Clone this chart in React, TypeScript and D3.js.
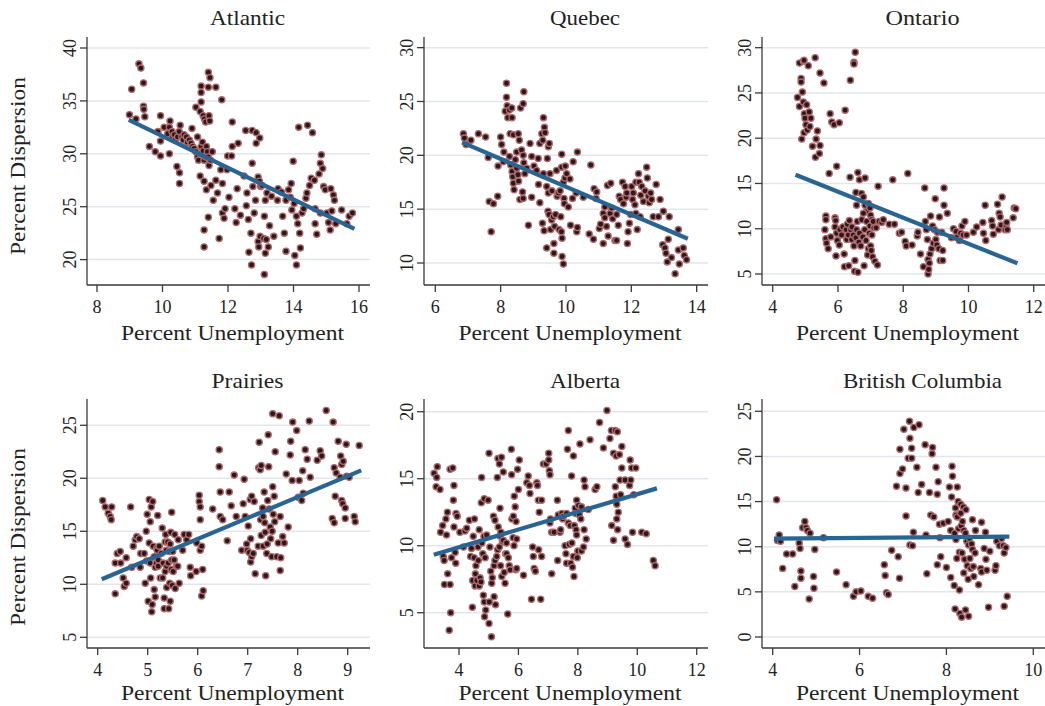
import React from "react";
import * as d3 from "d3";

type Pt = [number, number];

// Percent unemployment (x) vs percent dispersion (y), by region
const atlantic: Pt[] = [
  [8.99, 33.7], [9.06, 36.1], [9.19, 33.3], [9.28, 38.5], [9.34, 38.1], [9.42, 36.7], [9.42, 34.5], [9.43, 34.2],
  [9.46, 33.5], [9.6, 30.7], [9.78, 30.2], [9.86, 32.1], [9.94, 33.6], [9.94, 31.2], [9.94, 29.8], [10.05, 32.5],
  [10.21, 30.0], [10.23, 33.1], [10.44, 28.8], [10.52, 28.2], [10.52, 27.2], [10.16, 31.9], [10.21, 32.5], [10.29, 32.1],
  [10.31, 31.6], [10.36, 31.8], [10.39, 31.3], [10.46, 31.6], [10.51, 32.1], [10.54, 32.7], [10.59, 31.6], [10.63, 31.3],
  [10.66, 31.8], [10.73, 31.6], [10.76, 31.1], [10.82, 31.3], [10.87, 31.0], [10.92, 30.7], [10.97, 30.5], [11.02, 30.2],
  [11.07, 29.7], [11.1, 29.4], [11.15, 30.0], [11.18, 30.7], [11.22, 31.1], [11.24, 30.3], [11.27, 29.4], [11.32, 29.7],
  [11.34, 30.7], [11.37, 30.2], [11.4, 29.7], [11.42, 28.9], [11.47, 29.4], [11.52, 30.2], [10.9, 32.4], [11.02, 34.4],
  [11.07, 31.6], [11.15, 27.9], [11.18, 36.4], [11.18, 35.8], [11.18, 34.9], [11.15, 34.0], [11.24, 33.6], [11.28, 33.3],
  [11.32, 33.0], [11.42, 33.6], [11.44, 33.1], [11.27, 27.4], [11.27, 22.8], [11.27, 21.2], [11.34, 26.6], [11.4, 37.7],
  [11.45, 37.2], [11.4, 36.3], [11.4, 24.0], [11.48, 27.0], [11.55, 25.6], [11.63, 36.3], [11.63, 27.5], [11.68, 26.3],
  [11.73, 22.0], [11.81, 35.1], [11.78, 28.5], [11.83, 27.2], [11.83, 24.4], [11.88, 23.9], [11.91, 24.8], [11.97, 28.5],
  [11.99, 29.8], [12.03, 25.9], [12.11, 29.8], [12.13, 33.0], [12.13, 30.7], [12.21, 24.8], [12.25, 23.5], [12.28, 26.7],
  [12.31, 31.0], [12.38, 24.2], [12.49, 27.9], [12.54, 32.2], [12.56, 25.1], [12.58, 26.3], [12.62, 23.8], [12.64, 20.7],
  [12.7, 22.5], [12.72, 19.5], [12.74, 32.2], [12.74, 29.1], [12.76, 26.9], [12.8, 24.4], [12.84, 25.6], [12.86, 32.0],
  [12.86, 31.0], [12.92, 27.8], [12.96, 27.4], [13.0, 26.9], [12.92, 21.7], [12.94, 21.2], [12.97, 31.5], [12.98, 22.2],
  [13.04, 27.0], [13.09, 22.0], [13.11, 24.1], [13.14, 20.6], [13.11, 18.6], [13.17, 21.9], [13.19, 26.3], [13.14, 25.6],
  [13.23, 21.2], [13.27, 23.2], [13.33, 26.0], [13.4, 22.2], [13.51, 25.6], [13.53, 26.7], [13.63, 26.4], [13.67, 24.1],
  [13.72, 22.5], [13.77, 20.8], [13.77, 25.6], [13.85, 26.6], [13.9, 25.9], [13.93, 27.2], [13.95, 24.7], [13.99, 29.3],
  [14.02, 25.3], [14.04, 20.4], [14.09, 19.5], [14.09, 24.1], [14.13, 23.4], [14.16, 32.5], [14.19, 22.5], [14.21, 21.1],
  [14.26, 24.4], [14.31, 24.8], [14.38, 25.8], [14.41, 26.3], [14.43, 32.7], [14.49, 27.0], [14.54, 27.7], [14.58, 32.0],
  [14.64, 27.5], [14.66, 24.8], [14.66, 23.4], [14.71, 22.4], [14.78, 28.1], [14.82, 29.1], [14.82, 24.4], [14.85, 29.9],
  [14.89, 28.6], [14.92, 26.9], [14.97, 26.6], [15.02, 24.4], [15.07, 23.5], [15.12, 22.8], [15.14, 26.7], [15.17, 24.6],
  [15.22, 26.1], [15.25, 25.6], [15.29, 23.4], [15.47, 24.7], [15.63, 23.4], [15.7, 24.1], [15.8, 24.4],
];

const quebec: Pt[] = [
  [6.86, 22.0], [6.89, 21.6], [6.94, 21.0], [7.09, 21.4], [7.32, 22.0], [7.54, 21.7], [7.62, 19.8], [7.65, 15.7],
  [7.78, 15.5], [7.71, 12.9], [7.91, 16.2], [7.92, 19.0], [8.0, 21.7], [8.03, 21.0], [8.08, 19.4], [8.1, 20.3],
  [8.18, 26.7], [8.18, 25.4], [8.2, 24.6], [8.14, 24.1], [8.27, 24.2], [8.22, 23.5], [8.35, 23.5], [8.34, 24.4],
  [8.29, 22.0], [8.39, 21.9], [8.27, 19.9], [8.31, 19.1], [8.35, 18.5], [8.37, 18.0], [8.39, 17.4], [8.41, 16.8],
  [8.45, 19.6], [8.49, 20.3], [8.49, 18.8], [8.53, 18.2], [8.55, 17.6], [8.57, 21.4], [8.54, 22.0], [8.59, 15.9],
  [8.61, 24.4], [8.69, 24.8], [8.71, 25.9], [8.64, 20.5], [8.69, 20.0], [8.71, 19.3], [8.74, 18.3], [8.67, 16.6],
  [8.69, 16.0], [8.8, 18.8], [8.85, 13.5], [8.9, 21.1], [8.95, 19.9], [8.95, 16.1], [9.02, 19.0], [9.1, 18.6],
  [9.15, 19.7], [9.16, 17.3], [9.2, 15.6], [9.2, 21.1], [9.26, 22.0], [9.29, 21.4], [9.31, 23.5], [9.34, 22.6],
  [9.36, 22.1], [9.31, 18.3], [9.28, 13.7], [9.33, 13.0], [9.41, 11.4], [9.46, 20.8], [9.49, 21.1], [9.43, 19.7],
  [9.41, 17.1], [9.46, 16.5], [9.45, 14.8], [9.48, 14.5], [9.51, 18.3], [9.53, 13.1], [9.56, 14.0], [9.57, 16.7],
  [9.61, 14.3], [9.63, 11.8], [9.63, 10.9], [9.65, 13.4], [9.68, 14.5], [9.71, 18.6], [9.73, 16.2], [9.77, 16.5],
  [9.79, 13.1], [9.82, 16.7], [9.84, 14.3], [9.86, 12.9], [9.87, 20.1], [9.87, 18.9], [9.88, 12.3], [9.88, 10.6],
  [9.92, 9.9], [9.92, 17.5], [9.94, 16.0], [9.95, 15.5], [9.98, 19.0], [9.97, 17.9], [10.02, 18.3], [10.07, 15.2],
  [10.12, 17.8], [10.14, 13.5], [10.2, 16.0], [10.22, 19.4], [10.31, 16.5], [10.33, 12.9], [10.35, 13.3], [10.35, 20.3],
  [10.53, 16.1], [10.71, 12.7], [10.76, 19.1], [10.84, 12.2], [10.86, 16.9], [10.92, 16.0], [10.94, 16.6], [11.02, 13.2],
  [11.06, 13.6], [11.14, 11.8], [11.14, 14.6], [11.19, 15.2], [11.19, 14.2], [11.24, 13.4], [11.27, 17.2], [11.29, 12.5],
  [11.35, 14.6], [11.37, 17.4], [11.4, 15.1], [11.43, 14.1], [11.5, 12.1], [11.55, 12.1], [11.55, 14.5], [11.6, 13.5],
  [11.63, 16.2], [11.67, 15.9], [11.73, 17.5], [11.76, 15.5], [11.81, 17.1], [11.84, 16.1], [11.86, 16.5], [11.88, 11.8],
  [11.9, 12.9], [11.94, 13.7], [11.98, 14.5], [12.01, 17.1], [12.04, 15.9], [12.06, 16.5], [12.11, 15.4], [12.14, 17.5],
  [12.14, 14.6], [12.18, 13.1], [12.22, 18.3], [12.24, 17.5], [12.27, 14.3], [12.29, 16.3], [12.32, 17.1], [12.37, 15.7],
  [12.42, 16.7], [12.47, 18.9], [12.49, 17.9], [12.52, 16.2], [12.55, 15.6], [12.59, 16.5], [12.62, 15.9], [12.67, 14.3],
  [12.76, 17.3], [12.83, 14.3], [12.88, 15.9], [12.96, 11.7], [12.98, 14.8], [13.03, 11.4], [13.06, 10.9], [13.1, 10.1],
  [13.13, 12.2], [13.16, 14.3], [13.23, 10.5], [13.34, 9.0], [13.44, 13.1], [13.47, 9.9], [13.44, 11.2], [13.59, 11.4],
  [13.62, 10.7], [13.69, 10.3],
];

const ontario: Pt[] = [
  [4.76, 24.5], [4.82, 23.5], [4.82, 28.3], [4.87, 26.6], [4.87, 26.2], [4.89, 19.9], [4.91, 25.1], [4.94, 28.5],
  [4.96, 28.6], [4.94, 24.0], [4.96, 20.6], [4.97, 22.7], [4.99, 22.2], [5.02, 21.5], [5.04, 23.7], [5.06, 20.9],
  [5.09, 28.0], [5.12, 22.9], [5.14, 21.3], [5.17, 22.2], [5.22, 19.1], [5.3, 28.9], [5.31, 17.9], [5.33, 19.9],
  [5.37, 20.8], [5.43, 18.3], [5.45, 19.2], [5.45, 27.2], [5.57, 26.1], [5.73, 16.1], [5.76, 22.7], [5.81, 21.8],
  [5.88, 21.5], [6.04, 21.7], [5.96, 16.9], [6.22, 23.1], [6.38, 26.4], [6.49, 28.4], [6.49, 28.2], [6.53, 29.5],
  [6.37, 15.7], [6.61, 16.2], [6.66, 15.4], [6.83, 15.6], [7.23, 14.7], [7.68, 15.4], [8.14, 16.1], [8.66, 14.5],
  [9.25, 14.5], [8.98, 13.3], [9.25, 12.6], [9.35, 11.7], [6.55, 14.0], [6.57, 12.6], [6.72, 13.9], [6.78, 13.5],
  [6.83, 12.6], [6.88, 11.9], [6.93, 12.8], [6.98, 12.3], [7.0, 11.5], [7.03, 11.0], [5.63, 11.4], [5.63, 11.0],
  [5.6, 9.9], [5.63, 8.9], [5.65, 8.4], [5.7, 7.8], [5.78, 9.1], [5.91, 11.2], [5.93, 10.9], [5.91, 10.2],
  [5.96, 9.5], [5.94, 7.0], [5.98, 8.7], [6.04, 8.2], [6.06, 9.9], [6.11, 9.3], [6.15, 10.2], [6.19, 7.2],
  [6.2, 5.8], [6.25, 9.9], [6.27, 8.8], [6.29, 10.5], [6.32, 9.3], [6.33, 5.9], [6.35, 10.9], [6.39, 9.9],
  [6.42, 8.8], [6.43, 10.2], [6.47, 9.3], [6.49, 8.1], [6.51, 5.3], [6.52, 6.5], [6.55, 9.0], [6.57, 9.9],
  [6.59, 10.8], [6.61, 5.2], [6.64, 8.5], [6.66, 9.5], [6.7, 8.1], [6.73, 11.0], [6.76, 9.1], [6.78, 11.7],
  [6.8, 5.9], [6.82, 9.9], [6.86, 8.7], [6.88, 10.8], [6.91, 7.1], [6.93, 7.8], [6.96, 9.5], [6.98, 10.3],
  [7.0, 8.1], [7.02, 7.6], [7.04, 9.3], [7.06, 6.9], [7.08, 10.8], [7.1, 10.1], [7.13, 6.4], [7.17, 10.1],
  [7.21, 6.0], [7.26, 10.8], [7.34, 10.7], [7.39, 11.0], [7.57, 10.5], [7.73, 10.5], [7.88, 9.5], [7.95, 9.6],
  [8.06, 8.6], [8.09, 8.1], [8.27, 8.2], [8.43, 9.2], [8.45, 9.6], [8.53, 7.2], [8.62, 5.8], [8.68, 10.8],
  [8.71, 9.9], [8.74, 8.8], [8.76, 6.6], [8.76, 5.0], [8.78, 5.5], [8.8, 6.2], [8.82, 7.2], [8.84, 11.4],
  [8.87, 7.8], [8.9, 10.3], [8.92, 8.4], [8.96, 9.9], [9.0, 8.8], [9.03, 8.2], [9.05, 9.6], [9.09, 7.8],
  [9.13, 6.5], [9.11, 11.3], [9.18, 9.6], [9.21, 6.5], [9.21, 7.6], [9.48, 9.0], [9.54, 10.0], [9.62, 9.7],
  [9.66, 9.1], [9.72, 8.7], [9.76, 9.5], [9.8, 10.3], [9.84, 9.3], [9.89, 10.8], [9.94, 9.3], [10.15, 9.6],
  [10.25, 10.2], [10.44, 10.7], [10.46, 9.5], [10.51, 12.6], [10.53, 8.7], [10.71, 10.9], [10.74, 10.3], [10.76, 9.4],
  [10.89, 12.7], [10.92, 9.9], [10.94, 11.7], [10.97, 11.3], [11.0, 10.4], [11.03, 13.5], [11.12, 9.9], [11.15, 10.4],
  [11.17, 10.7], [11.19, 9.9], [11.37, 11.2], [11.4, 12.3], [11.45, 12.2],
];

const prairies: Pt[] = [
  [4.1, 17.9], [4.15, 17.3], [4.21, 16.7], [4.25, 16.4], [4.27, 16.1], [4.28, 17.3], [4.35, 12.0], [4.35, 9.1],
  [4.39, 12.9], [4.45, 13.1], [4.46, 12.0], [4.51, 10.6], [4.53, 9.8], [4.57, 12.5], [4.57, 10.1], [4.66, 17.3],
  [4.68, 11.6], [4.71, 13.6], [4.75, 14.2], [4.78, 14.5], [4.83, 14.3], [4.86, 12.9], [4.85, 11.6], [4.93, 12.9],
  [4.95, 10.1], [4.97, 15.0], [4.98, 12.2], [4.99, 16.6], [5.01, 8.4], [5.03, 18.0], [5.03, 13.9], [5.05, 15.9],
  [5.05, 12.0], [5.06, 10.6], [5.07, 17.3], [5.08, 7.4], [5.09, 8.1], [5.1, 17.8], [5.11, 13.6], [5.13, 12.6],
  [5.13, 9.5], [5.15, 8.8], [5.15, 11.6], [5.17, 12.0], [5.18, 13.4], [5.19, 13.2], [5.2, 16.5], [5.21, 12.3],
  [5.21, 11.7], [5.23, 13.6], [5.25, 10.6], [5.27, 12.9], [5.29, 15.3], [5.3, 10.6], [5.31, 12.0], [5.33, 8.7],
  [5.33, 7.7], [5.35, 14.0], [5.35, 11.2], [5.36, 14.7], [5.37, 13.2], [5.38, 11.7], [5.38, 9.7], [5.4, 14.0],
  [5.41, 12.0], [5.42, 7.7], [5.43, 13.1], [5.44, 10.1], [5.45, 8.4], [5.45, 13.8], [5.46, 14.9], [5.47, 11.4],
  [5.48, 12.3], [5.48, 16.8], [5.49, 9.9], [5.5, 13.1], [5.51, 11.2], [5.53, 12.3], [5.54, 14.7], [5.55, 9.6],
  [5.57, 11.7], [5.6, 11.7], [5.61, 14.2], [5.63, 10.1], [5.7, 13.2], [5.73, 14.7], [5.78, 14.2], [5.82, 14.7],
  [5.85, 11.6], [5.86, 10.8], [5.97, 11.2], [5.98, 13.9], [6.03, 18.4], [6.03, 17.8], [6.05, 17.3], [6.05, 16.1],
  [6.05, 13.2], [6.08, 13.6], [6.08, 8.9], [6.1, 11.4], [6.11, 9.4], [6.3, 17.1], [6.43, 22.7], [6.43, 21.1],
  [6.45, 18.7], [6.45, 16.4], [6.5, 16.1], [6.59, 14.1], [6.63, 18.7], [6.67, 17.4], [6.73, 20.3], [6.77, 16.4],
  [6.88, 13.2], [6.91, 17.6], [6.93, 19.9], [6.95, 16.4], [6.98, 13.8], [6.99, 13.2], [7.01, 15.5], [7.03, 13.0],
  [7.05, 18.0], [7.06, 12.1], [7.06, 14.3], [7.08, 18.3], [7.08, 12.6], [7.11, 12.9], [7.13, 17.8], [7.15, 11.0],
  [7.21, 13.6], [7.22, 21.0], [7.23, 23.4], [7.25, 20.8], [7.26, 16.1], [7.27, 21.2], [7.27, 14.6], [7.3, 17.2],
  [7.31, 16.4], [7.31, 13.6], [7.33, 18.7], [7.34, 15.8], [7.35, 14.9], [7.36, 10.8], [7.38, 12.9], [7.39, 13.8],
  [7.4, 17.9], [7.41, 24.1], [7.42, 21.1], [7.43, 17.1], [7.45, 15.4], [7.46, 14.3], [7.48, 12.6], [7.49, 15.0],
  [7.5, 19.2], [7.5, 26.1], [7.51, 16.6], [7.53, 18.3], [7.54, 15.9], [7.55, 22.5], [7.58, 12.6], [7.61, 13.9],
  [7.63, 25.9], [7.65, 16.4], [7.65, 11.3], [7.66, 12.5], [7.7, 14.5], [7.73, 13.9], [7.77, 20.4], [7.81, 15.4],
  [7.85, 22.2], [7.86, 23.5], [7.89, 19.8], [7.9, 25.3], [7.98, 24.5], [8.01, 18.2], [8.03, 19.8], [8.08, 17.9],
  [8.1, 20.7], [8.11, 18.6], [8.15, 22.7], [8.19, 21.8], [8.23, 25.4], [8.25, 20.1], [8.39, 21.7], [8.45, 22.6],
  [8.48, 22.1], [8.57, 26.4], [8.69, 16.2], [8.71, 25.3], [8.73, 15.8], [8.73, 21.0], [8.75, 18.3], [8.77, 20.5],
  [8.81, 23.5], [8.85, 20.1], [8.86, 22.1], [8.88, 21.3], [8.88, 17.9], [8.9, 17.6], [8.91, 21.6], [8.95, 17.2],
  [8.97, 23.2], [8.95, 16.2], [8.98, 20.2], [9.03, 20.1], [9.13, 16.4], [9.15, 15.9], [9.23, 23.1],
];

const alberta: Pt[] = [
  [3.16, 15.4], [3.23, 14.4], [3.25, 15.1], [3.27, 15.9], [3.36, 14.2], [3.38, 11.0], [3.45, 11.5], [3.47, 9.2],
  [3.5, 8.9], [3.51, 7.1], [3.56, 12.0], [3.58, 10.8], [3.61, 12.5], [3.62, 7.9], [3.67, 3.7], [3.7, 15.7],
  [3.7, 7.1], [3.72, 5.0], [3.75, 9.1], [3.79, 15.8], [3.81, 13.4], [3.83, 14.5], [3.83, 11.4], [3.87, 9.5],
  [3.89, 8.7], [3.9, 12.4], [3.94, 12.2], [4.03, 11.0], [4.15, 9.9], [4.2, 11.1], [4.26, 11.3], [4.35, 11.9],
  [4.39, 9.2], [4.42, 9.8], [4.45, 5.4], [4.46, 7.4], [4.48, 10.7], [4.51, 9.1], [4.52, 12.0], [4.54, 7.0],
  [4.55, 7.9], [4.57, 8.5], [4.6, 7.4], [4.64, 9.9], [4.65, 8.9], [4.68, 7.0], [4.68, 11.2], [4.71, 7.6],
  [4.74, 7.3], [4.75, 13.2], [4.76, 15.1], [4.77, 10.2], [4.8, 9.4], [4.82, 6.3], [4.84, 10.7], [4.85, 13.5],
  [4.85, 5.8], [4.86, 4.7], [4.88, 9.1], [4.9, 5.2], [4.93, 10.8], [4.98, 13.4], [5.01, 16.9], [5.01, 4.2],
  [5.02, 5.8], [5.04, 9.9], [5.07, 8.1], [5.09, 3.2], [5.1, 7.2], [5.12, 7.6], [5.16, 12.2], [5.18, 6.2],
  [5.18, 8.5], [5.21, 11.9], [5.21, 8.9], [5.23, 5.6], [5.27, 9.2], [5.29, 15.1], [5.3, 9.7], [5.31, 16.5],
  [5.32, 11.4], [5.36, 16.1], [5.36, 9.9], [5.38, 12.8], [5.39, 10.7], [5.4, 8.5], [5.41, 11.0], [5.43, 16.6],
  [5.44, 7.7], [5.46, 10.3], [5.49, 15.5], [5.49, 10.4], [5.52, 8.0], [5.55, 7.2], [5.57, 9.4], [5.6, 10.2],
  [5.6, 9.4], [5.64, 4.9], [5.66, 9.1], [5.69, 8.5], [5.72, 8.2], [5.76, 17.2], [5.77, 15.3], [5.78, 12.0],
  [5.82, 10.6], [5.83, 12.2], [5.85, 10.0], [5.86, 13.7], [5.89, 12.9], [5.91, 8.2], [5.92, 11.8], [5.94, 8.3],
  [5.94, 10.5], [5.97, 15.7], [6.0, 14.2], [6.03, 16.4], [6.17, 7.8], [6.28, 14.7], [6.33, 15.2], [6.37, 14.5],
  [6.39, 13.9], [6.44, 6.0], [6.48, 9.9], [6.5, 9.2], [6.53, 8.3], [6.57, 8.1], [6.62, 14.7], [6.64, 14.5],
  [6.67, 13.4], [6.68, 9.7], [6.7, 12.5], [6.75, 6.0], [6.78, 9.2], [6.78, 13.4], [6.84, 16.1], [6.93, 16.1],
  [7.02, 16.9], [7.02, 16.4], [7.04, 15.6], [7.06, 15.3], [7.06, 11.7], [7.08, 12.0], [7.12, 11.0], [7.12, 7.9],
  [7.2, 11.0], [7.31, 13.4], [7.32, 8.9], [7.34, 12.3], [7.4, 11.0], [7.42, 11.2], [7.46, 12.4], [7.49, 12.0],
  [7.51, 12.2], [7.57, 10.0], [7.6, 9.4], [7.62, 12.4], [7.62, 8.7], [7.65, 17.2], [7.68, 18.6], [7.68, 11.7],
  [7.71, 10.1], [7.74, 11.5], [7.76, 8.7], [7.79, 15.2], [7.8, 10.2], [7.82, 8.4], [7.85, 16.7], [7.85, 9.2],
  [7.87, 7.7], [7.88, 11.5], [7.91, 12.8], [7.93, 12.4], [7.94, 11.2], [7.96, 13.4], [7.96, 10.8], [7.98, 9.1],
  [8.0, 9.6], [8.02, 13.0], [8.05, 12.3], [8.07, 17.6], [8.1, 12.0], [8.12, 12.9], [8.12, 9.6], [8.19, 9.9],
  [8.21, 11.2], [8.21, 14.9], [8.24, 14.4], [8.28, 10.5], [8.35, 12.7], [8.41, 17.9], [8.58, 14.2], [8.64, 14.4],
  [8.73, 19.2], [8.86, 17.3], [8.98, 20.1], [9.08, 18.0], [9.13, 18.6], [9.14, 11.5], [9.2, 16.9], [9.2, 10.4],
  [9.26, 18.6], [9.26, 14.4], [9.29, 16.7], [9.29, 13.7], [9.31, 13.1], [9.31, 12.0], [9.33, 18.5], [9.34, 11.2],
  [9.36, 12.5], [9.4, 16.8], [9.42, 14.9], [9.44, 13.8], [9.48, 15.8], [9.48, 17.4], [9.59, 14.9], [9.59, 10.5],
  [9.67, 10.1], [9.74, 14.5], [9.76, 16.4], [9.78, 14.9], [9.81, 15.8], [9.84, 11.0], [9.88, 13.8], [9.95, 15.8],
  [10.15, 11.0], [10.3, 10.9], [10.54, 8.9], [10.6, 8.5],
];

const britishColumbia: Pt[] = [
  [4.09, 15.2], [4.11, 10.7], [4.15, 11.3], [4.18, 10.6], [4.23, 7.6], [4.32, 9.2], [4.46, 9.2], [4.51, 5.6],
  [4.61, 10.4], [4.63, 9.8], [4.65, 7.3], [4.65, 6.5], [4.69, 12.1], [4.74, 12.8], [4.77, 12.1], [4.8, 11.8],
  [4.86, 11.5], [4.84, 4.2], [4.94, 6.7], [4.95, 5.4], [4.97, 9.7], [5.17, 11.0], [5.47, 7.2], [5.69, 5.8],
  [5.86, 4.5], [5.92, 5.0], [6.03, 5.1], [6.2, 4.5], [6.3, 4.3], [6.57, 8.0], [6.59, 6.8], [6.62, 4.9],
  [6.66, 4.7], [6.74, 9.6], [6.85, 16.7], [6.89, 8.9], [6.92, 6.5], [6.93, 18.1], [6.93, 20.8], [6.99, 18.6],
  [7.02, 23.0], [7.07, 16.5], [7.07, 13.4], [7.12, 19.8], [7.15, 23.9], [7.16, 22.0], [7.16, 10.2], [7.2, 20.9],
  [7.2, 19.8], [7.22, 10.1], [7.24, 11.6], [7.25, 23.2], [7.32, 18.8], [7.35, 16.0], [7.37, 23.5], [7.43, 16.9],
  [7.51, 21.3], [7.55, 7.0], [7.53, 11.3], [7.61, 16.0], [7.64, 13.5], [7.67, 20.3], [7.68, 21.0], [7.71, 13.3],
  [7.76, 18.8], [7.79, 15.8], [7.79, 8.0], [7.81, 17.2], [7.84, 12.5], [7.85, 11.0], [7.87, 8.9], [7.93, 12.6],
  [8.0, 7.7], [8.04, 12.8], [8.07, 16.6], [8.1, 11.8], [8.1, 6.6], [8.12, 15.5], [8.13, 18.9], [8.14, 17.8],
  [8.18, 5.7], [8.19, 11.5], [8.2, 3.1], [8.21, 14.3], [8.22, 13.5], [8.22, 10.8], [8.24, 8.7], [8.25, 16.6],
  [8.25, 13.3], [8.27, 15.0], [8.28, 12.0], [8.3, 9.4], [8.3, 5.2], [8.31, 2.6], [8.33, 14.7], [8.33, 13.7],
  [8.34, 12.3], [8.35, 2.2], [8.36, 9.3], [8.37, 12.8], [8.39, 14.4], [8.4, 11.8], [8.4, 7.1], [8.42, 8.6],
  [8.44, 3.0], [8.44, 11.5], [8.45, 14.1], [8.47, 10.6], [8.48, 7.9], [8.5, 6.4], [8.51, 2.3], [8.51, 10.2],
  [8.53, 10.9], [8.54, 8.7], [8.56, 7.6], [8.58, 10.3], [8.6, 13.0], [8.6, 9.7], [8.62, 7.8], [8.63, 6.7],
  [8.66, 9.3], [8.67, 11.8], [8.74, 5.8], [8.79, 7.6], [8.81, 7.2], [8.81, 12.7], [8.87, 9.8], [8.9, 11.6],
  [8.91, 8.6], [8.93, 7.4], [8.97, 3.3], [9.0, 9.5], [9.12, 7.4], [9.14, 7.9], [9.16, 10.6], [9.22, 10.1],
  [9.27, 10.9], [9.31, 10.1], [9.33, 9.3], [9.33, 3.4], [9.37, 9.9], [9.4, 4.5],
];

// Linear-fit endpoints [x, y] for each region
const atlanticFit: Pt[] = [[8.97, 33.2], [15.86, 22.9]];
const quebecFit: Pt[] = [[6.82, 21.2], [13.73, 12.25]];
const ontarioFit: Pt[] = [[4.7, 15.97], [11.5, 6.18]];
const prairiesFit: Pt[] = [[4.08, 10.47], [9.27, 20.75]];
const albertaFit: Pt[] = [[3.15, 9.33], [10.66, 14.28]];
const bcFit: Pt[] = [[4.03, 10.89], [9.45, 11.12]];

const regionNames = ["Atlantic", "Quebec", "Ontario", "Prairies", "Alberta", "British Columbia"];
const xTicks = [
  [8, 10, 12, 14, 16],
  [6, 8, 10, 12, 14],
  [4, 6, 8, 10, 12],
  [4, 5, 6, 7, 8, 9],
  [4, 6, 8, 10, 12],
  [4, 6, 8, 10],
];
const yTicks = [
  [20, 25, 30, 35, 40],
  [10, 15, 20, 25, 30],
  [5, 10, 15, 20, 25, 30],
  [5, 10, 15, 20, 25],
  [5, 10, 15, 20],
  [0, 5, 10, 15, 20, 25],
];
const xDomains: [number, number][] = [
  [7.695, 16.336], [5.654, 14.347], [3.672, 12.345],
  [3.786, 9.446], [2.822, 12.38], [3.754, 10.27],
];
const yDomains: [number, number][] = [
  [17.6, 41.04], [7.956, 30.99], [3.785, 31.18],
  [3.99, 27.48], [2.366, 20.95], [-1.218, 26.36],
];
const seriesList = [atlantic, quebec, ontario, prairies, alberta, britishColumbia];
const fitList = [atlanticFit, quebecFit, ontarioFit, prairiesFit, albertaFit, bcFit];

const xTitle = "Percent Unemployment";
const yTitle = "Percent Dispersion";

// Layout of the 2 x 3 grid
const W = 1045;
const H = 706;
const cols: [number, number][] = [[87, 370], [424, 708], [762, 1045]];
const rows = [
  { top: 37, bottom: 285, tickDy: 28, titleY: 25, axisTitleY: 340, yTitleMid: 166 },
  { top: 399, bottom: 648, tickDy: 28, titleY: 387.5, axisTitleY: 700, yTitleMid: 537 },
];
const titleWidths: Record<string, number> = {
  Atlantic: 75, Quebec: 70, Ontario: 74, Prairies: 72, Alberta: 70, "British Columbia": 159,
};

const FONT = "'Liberation Serif', 'Times New Roman', serif";
const TEXT = "#222";
const AXIS = "#3a3a3a";
const GRID = "#e2e6ec";
const DOT_FILL = "#2a181b";
const DOT_STROKE = "#b06a6d";
const FIT = "#2a6592";

function Panel({ i }: { i: number }) {
  const col = cols[i % 3];
  const row = rows[Math.floor(i / 3)];
  const x = d3.scaleLinear().domain(xDomains[i]).range(col);
  const y = d3.scaleLinear().domain(yDomains[i]).range([row.bottom, row.top]);
  const name = regionNames[i];
  const mid = (col[0] + col[1]) / 2;
  const line = d3.line<Pt>().x((d) => x(d[0])).y((d) => y(d[1]));
  return (
    <g>
      {/* horizontal gridlines */}
      {yTicks[i].map((t) => (
        <line key={`g${t}`} x1={col[0]} x2={col[1]} y1={y(t)} y2={y(t)} stroke={GRID} strokeWidth={1.5} />
      ))}
      {/* axes */}
      <line x1={col[0]} x2={col[0]} y1={row.top} y2={row.bottom} stroke={AXIS} strokeWidth={1.3} />
      <line x1={col[0]} x2={col[1]} y1={row.bottom} y2={row.bottom} stroke={AXIS} strokeWidth={1.3} />
      {yTicks[i].map((t) => (
        <g key={`y${t}`}>
          <line x1={col[0] - 7} x2={col[0]} y1={y(t)} y2={y(t)} stroke={AXIS} strokeWidth={1.3} />
          <text
            transform={`translate(${col[0] - 11},${y(t)}) rotate(-90)`}
            textAnchor="middle"
            fontFamily={FONT}
            fontSize={18}
            fill={TEXT}
          >
            {t}
          </text>
        </g>
      ))}
      {xTicks[i].map((t) => (
        <g key={`x${t}`}>
          <line x1={x(t)} x2={x(t)} y1={row.bottom} y2={row.bottom + 7} stroke={AXIS} strokeWidth={1.3} />
          <text x={x(t)} y={row.bottom + row.tickDy} textAnchor="middle" fontFamily={FONT} fontSize={18} fill={TEXT}>
            {t}
          </text>
        </g>
      ))}
      {/* scatter */}
      {seriesList[i].map((d, k) => (
        <circle key={k} cx={x(d[0])} cy={y(d[1])} r={3.1} fill={DOT_FILL} stroke={DOT_STROKE} strokeWidth={1.3} />
      ))}
      {/* fitted line */}
      <path d={line(fitList[i]) || ""} stroke={FIT} strokeWidth={4.2} fill="none" />
      {/* titles */}
      <text
        x={mid + 19}
        y={row.titleY}
        textAnchor="middle"
        fontFamily={FONT}
        fontSize={21.5}
        fill={TEXT}
        textLength={titleWidths[name]}
        lengthAdjust="spacingAndGlyphs"
      >
        {name}
      </text>
      <text
        x={mid + 4}
        y={row.axisTitleY}
        textAnchor="middle"
        fontFamily={FONT}
        fontSize={21}
        fill={TEXT}
        textLength={223}
        lengthAdjust="spacingAndGlyphs"
      >
        {xTitle}
      </text>
      {i % 3 === 0 && (
        <text
          transform={`translate(25,${row.yTitleMid}) rotate(-90)`}
          textAnchor="middle"
          fontFamily={FONT}
          fontSize={21.5}
          fill={TEXT}
          textLength={178}
          lengthAdjust="spacingAndGlyphs"
        >
          {yTitle}
        </text>
      )}
    </g>
  );
}

export default function App() {
  return (
    <svg
      width={W}
      height={H}
      viewBox={`0 0 ${W} ${H}`}
      style={{ position: "absolute", left: 0, top: 0, background: "#fff", display: "block" }}
    >
      <rect width={W} height={H} fill="#fff" />
      {regionNames.map((_, i) => (
        <Panel key={i} i={i} />
      ))}
    </svg>
  );
}
